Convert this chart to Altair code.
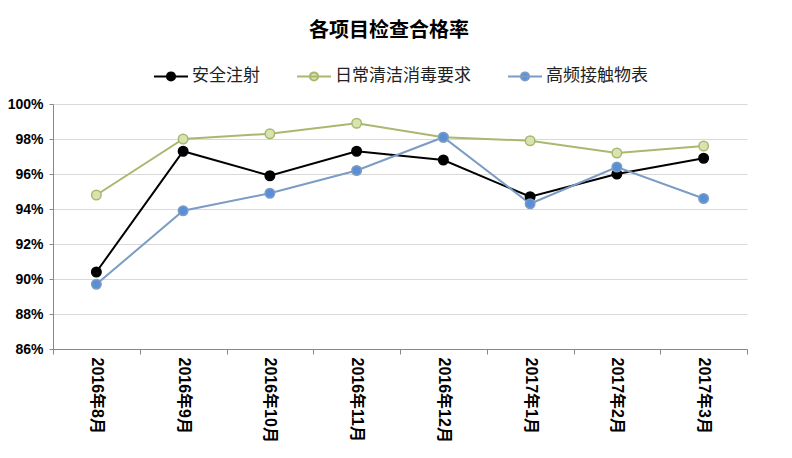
import altair as alt
import pandas as pd

months = ["2016年8月", "2016年9月", "2016年10月", "2016年11月",
          "2016年12月", "2017年1月", "2017年2月", "2017年3月"]
series_names = ["安全注射", "日常清洁消毒要求", "高频接触物表"]
safe_injection = [90.4, 97.3, 95.9, 97.3, 96.8, 94.7, 96.0, 96.9]
daily_clean = [94.8, 98.0, 98.3, 98.9, 98.1, 97.9, 97.2, 97.6]
high_touch = [89.7, 93.9, 94.9, 96.2, 98.1, 94.3, 96.4, 94.6]

stroke_colors = ["#000000", "#a9b86e", "#7b9cc4"]
fill_colors = ["#000000", "#d7e4b0", "#5a8fd6"]

rows = []
for name, vals in zip(series_names, [safe_injection, daily_clean, high_touch]):
    for m, v in zip(months, vals):
        rows.append({"month": m, "series": name, "value": v / 100.0})
df = pd.DataFrame(rows)

x = alt.X("month:N", sort=months, title=None,
          scale=alt.Scale(paddingInner=0, paddingOuter=0),
          axis=alt.Axis(labelAngle=90, tickBand="extent", grid=False,
                        labelFont="Liberation Sans, Noto Sans CJK SC", labelFontSize=16,
                        labelFontWeight="bold", labelColor="#000000", labelPadding=3,
                        tickSize=5, tickColor="#888888", domainColor="#888888"))
y = alt.Y("value:Q", title=None,
          scale=alt.Scale(domain=[0.86, 1.0], nice=False, zero=False),
          axis=alt.Axis(values=[0.86, 0.88, 0.90, 0.92, 0.94, 0.96, 0.98, 1.0], format=".0%",
                        labelFont="Liberation Sans", labelFontSize=14, labelFontWeight="bold",
                        labelColor="#000000", labelPadding=6, tickSize=4,
                        tickColor="#888888", domainColor="#888888",
                        gridColor="#d9d9d9", grid=True))

stroke_scale = alt.Scale(domain=series_names, range=stroke_colors)
fill_scale = alt.Scale(domain=series_names, range=fill_colors)

legend = alt.Legend(title=None, orient="none", direction="horizontal",
                    legendX=100, legendY=-46,
                    symbolType="M-1,0L1,0M0.24,0A0.24,0.24,0,1,1,-0.24,0A0.24,0.24,0,1,1,0.24,0Z",
                    symbolSize=1156, symbolStrokeWidth=2, symbolOpacity=1,
                    labelFont="Noto Sans CJK SC", labelFontSize=17, labelColor="#222222",
                    labelOffset=3, columnPadding=33)

lines = alt.Chart(df).mark_line(strokeWidth=2).encode(
    x=x, y=y,
    stroke=alt.Stroke("series:N", scale=stroke_scale, legend=legend, sort=series_names),
)
points = alt.Chart(df).mark_point(filled=True, size=90, opacity=1, strokeWidth=1.5).encode(
    x=x, y=y,
    stroke=alt.Stroke("series:N", scale=stroke_scale, legend=legend, sort=series_names),
    fill=alt.Fill("series:N", scale=fill_scale, legend=legend, sort=series_names),
    shape=alt.value("circle"),
)

chart = alt.layer(lines, points).properties(
    width=694, height=245,
    title=alt.TitleParams("各项目检查合格率", font="Noto Sans CJK SC", fontSize=20,
                          fontWeight="bold", color="#000000", anchor="middle", dx=-11, offset=17),
    autosize=alt.AutoSizeParams(type="none"),
    padding={"left": 45, "top": 96, "right": 37, "bottom": 101},
    background="#ffffff",
).configure_view(stroke=None)

chart.save("out.html", embed_options={"renderer": "svg", "actions": False})
